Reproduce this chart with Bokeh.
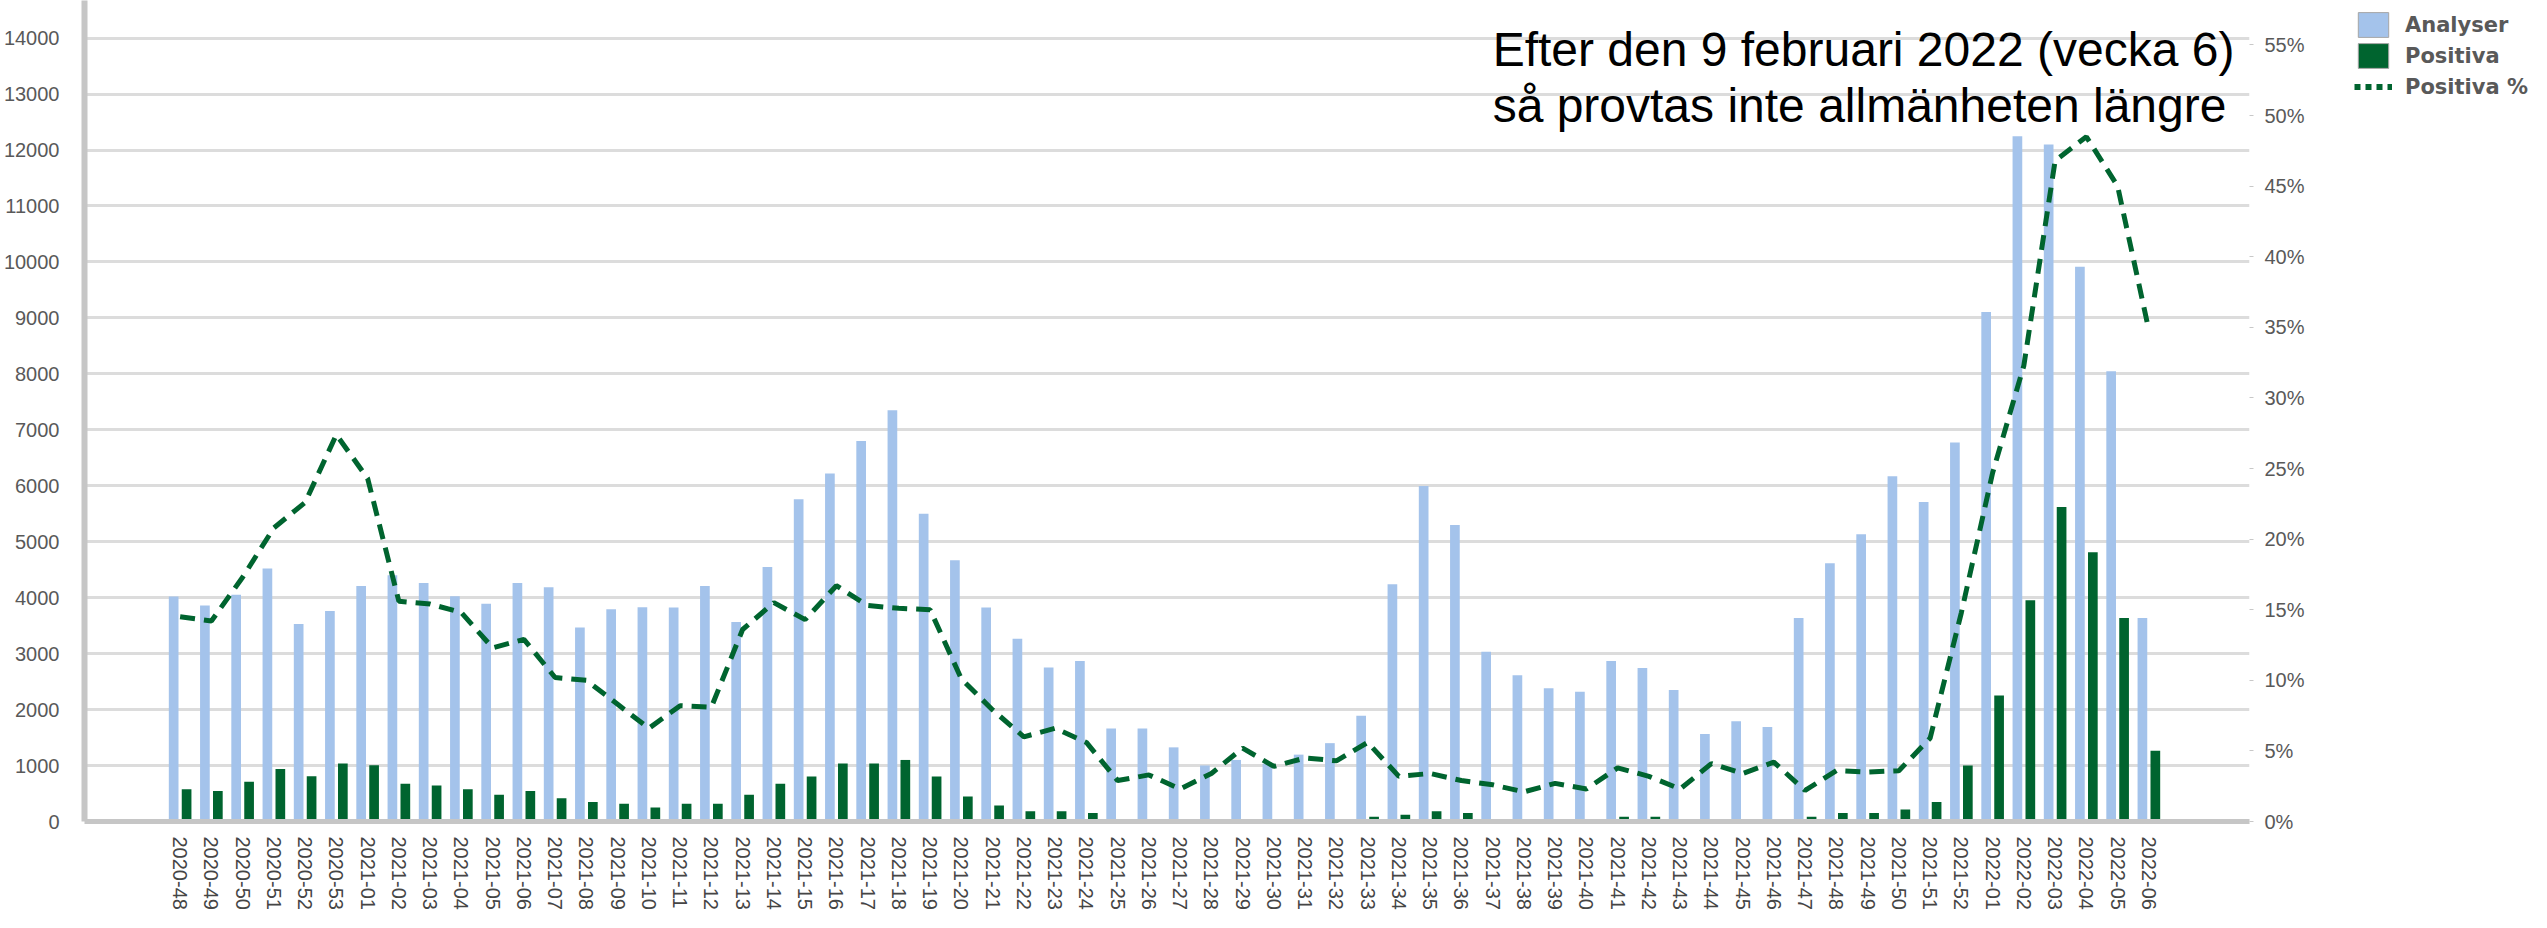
from bokeh.plotting import figure
from bokeh.layouts import row
from bokeh.models import (Range1d, LinearAxis, FixedTicker, PrintfTickFormatter,
                          Legend, LegendItem, Label, ColumnDataSource)
from bokeh.transform import dodge
from bokeh.embed import file_html
from bokeh.resources import INLINE

weeks = ["2020-48", "2020-49", "2020-50", "2020-51", "2020-52", "2020-53",
         "2021-01", "2021-02", "2021-03", "2021-04", "2021-05", "2021-06", "2021-07",
         "2021-08", "2021-09", "2021-10", "2021-11", "2021-12", "2021-13", "2021-14",
         "2021-15", "2021-16", "2021-17", "2021-18", "2021-19", "2021-20", "2021-21",
         "2021-22", "2021-23", "2021-24", "2021-25", "2021-26", "2021-27", "2021-28",
         "2021-29", "2021-30", "2021-31", "2021-32", "2021-33", "2021-34", "2021-35",
         "2021-36", "2021-37", "2021-38", "2021-39", "2021-40", "2021-41", "2021-42",
         "2021-43", "2021-44", "2021-45", "2021-46", "2021-47", "2021-48", "2021-49",
         "2021-50", "2021-51", "2021-52",
         "2022-01", "2022-02", "2022-03", "2022-04", "2022-05", "2022-06"]

analyser = [4020, 3860, 4050, 4520, 3530, 3760,
            4210, 4400, 4260, 4025, 3890, 4260, 4185,
            3465, 3795, 3830, 3825, 4210, 3565, 4550,
            5760, 6220, 6800, 7350, 5500, 4670, 3825,
            3265, 2750, 2870, 1660, 1660, 1325, 1000,
            1100, 1030, 1195, 1400, 1890, 4240, 5995,
            5300, 3035, 2615, 2380, 2320, 2870, 2745,
            2350, 1565, 1790, 1690, 3635, 4615, 5135,
            6170, 5710, 6775,
            9105, 12245, 12100, 9915, 8045, 3635]

positiva = [575, 545, 710, 940, 810, 1035,
            1005, 675, 645, 575, 480, 545, 415,
            350, 315, 250, 315, 315, 480, 675,
            805, 1035, 1035, 1100, 805, 445, 285,
            185, 185, 150, 15, 45, 25, 25,
            45, 20, 45, 45, 85, 120, 185,
            150, 45, 45, 45, 45, 85, 85,
            45, 45, 45, 45, 85, 150, 150,
            215, 350, 1000,
            2250, 3955, 5620, 4810, 3635, 1265]

positiva_pct = [14.5, 14.2, 17.3, 20.8, 22.6, 27.4,
                24.3, 15.6, 15.4, 14.8, 12.3, 12.9, 10.2,
                10.0, 8.3, 6.6, 8.2, 8.1, 13.6, 15.5,
                14.3, 16.7, 15.3, 15.1, 15.0, 10.1, 7.9,
                6.0, 6.6, 5.6, 2.9, 3.3, 2.3, 3.4,
                5.2, 3.9, 4.5, 4.3, 5.6, 3.2, 3.4,
                2.9, 2.6, 2.1, 2.7, 2.3, 3.8, 3.2,
                2.3, 4.1, 3.4, 4.2, 2.2, 3.6, 3.5,
                3.6, 5.9, 14.8,
                24.7, 32.3, 46.8, 48.5, 45.0, 34.8]

left_ticks = list(range(0, 14001, 1000))
right_ticks = list(range(0, 56, 5))

note_line1 = "Efter den 9 februari 2022 (vecka 6)"
note_line2 = "så provtas inte allmänheten längre"

idx = list(range(len(weeks)))
src = ColumnDataSource(dict(x=idx, analyser=analyser, positiva=positiva, pct=positiva_pct))

BLUE = "#a4c3eb"
GREEN = "#00642f"
TXT = "#595959"
SANS = "Liberation Sans"

# ---------------- main chart ----------------
p = figure(width=2345, height=912, output_backend="svg", toolbar_location=None,
           x_range=Range1d(-3.06, 66.22), y_range=Range1d(0, 14672),
           min_border_left=75, min_border_right=96, min_border_top=0, min_border_bottom=83)
p.outline_line_color = None
p.background_fill_color = "white"
p.xgrid.grid_line_color = None
p.ygrid.grid_line_color = "#dcdcdc"
p.ygrid.grid_line_width = 3

p.extra_y_ranges = {"pct": Range1d(0, 58.15)}

p.vbar(x=dodge("x", -0.207), top="analyser", width=0.31, source=src,
       fill_color=BLUE, line_color=None)
p.vbar(x=dodge("x", 0.207), top="positiva", width=0.31, source=src,
       fill_color=GREEN, line_color=None)
p.line(x="x", y="pct", source=src, y_range_name="pct",
       line_color=GREEN, line_width=5, line_dash="15 9")

ya = p.yaxis[0]
ya.ticker = FixedTicker(ticks=left_ticks)
ya.axis_line_color = "#c6c6c6"
ya.axis_line_width = 6
ya.major_tick_line_color = None
ya.minor_tick_line_color = None
ya.major_label_standoff = 19
ya.major_label_text_font = SANS
ya.major_label_text_font_size = "20px"
ya.major_label_text_color = TXT

xa = p.xaxis[0]
xa.ticker = FixedTicker(ticks=idx)
xa.major_label_overrides = {i: w for i, w in enumerate(weeks)}
xa.major_label_orientation = "vertical"
xa.axis_line_color = "#c6c6c6"
xa.axis_line_width = 5
xa.major_tick_line_color = None
xa.minor_tick_line_color = None
xa.major_label_standoff = 9
xa.major_label_text_font = SANS
xa.major_label_text_font_size = "20px"
xa.major_label_text_color = "#454545"

ra = LinearAxis(y_range_name="pct", ticker=FixedTicker(ticks=right_ticks),
                formatter=PrintfTickFormatter(format="%d%%"))
ra.axis_line_color = None
ra.major_tick_line_color = "#c8c8c8"
ra.major_tick_out = 4
ra.major_tick_in = 0
ra.minor_tick_line_color = None
ra.major_label_standoff = 11
ra.major_label_text_font = SANS
ra.major_label_text_font_size = "20px"
ra.major_label_text_color = TXT
p.add_layout(ra, "right")

for txt, yv in ((note_line1, 13800), (note_line2, 12790)):
    p.add_layout(Label(x=42.0, y=yv, text=txt, text_font=SANS,
                       text_font_size="48px", text_baseline="alphabetic",
                       text_align="left", text_color="black"))

# ---------------- legend panel ----------------
lf = figure(width=186, height=912, output_backend="svg", toolbar_location=None,
            x_range=Range1d(0, 1), y_range=Range1d(0, 1),
            min_border_left=0, min_border_right=0, min_border_top=0, min_border_bottom=0,
            x_axis_location=None, y_axis_location=None)
lf.outline_line_color = None
lf.grid.visible = False
lb = lf.vbar(x="x", top="analyser", width=0.31, source=src,
             fill_color=BLUE, line_color="#a6a6a6", line_width=1, visible=False)
lg = lf.vbar(x="x", top="positiva", width=0.31, source=src,
             fill_color=GREEN, line_color="#a6a6a6", line_width=1, visible=False)
ll = lf.line(x="x", y="pct", source=src, line_color=GREEN, line_width=6,
             line_dash="6 5", visible=False)

legend = Legend(items=[LegendItem(label="Analyser", renderers=[lb]),
                       LegendItem(label="Positiva", renderers=[lg]),
                       LegendItem(label="Positiva %", renderers=[ll])],
                location="top_left", glyph_width=38, glyph_height=31,
                spacing=0, padding=0, margin=9, label_standoff=13,
                border_line_color=None, background_fill_alpha=0,
                inactive_fill_alpha=0,
                label_text_font="DejaVu Sans", label_text_font_style="bold",
                label_text_font_size="21px", label_text_color=TXT)
lf.add_layout(legend)

open("out.html", "w").write(file_html(row(p, lf), INLINE))
